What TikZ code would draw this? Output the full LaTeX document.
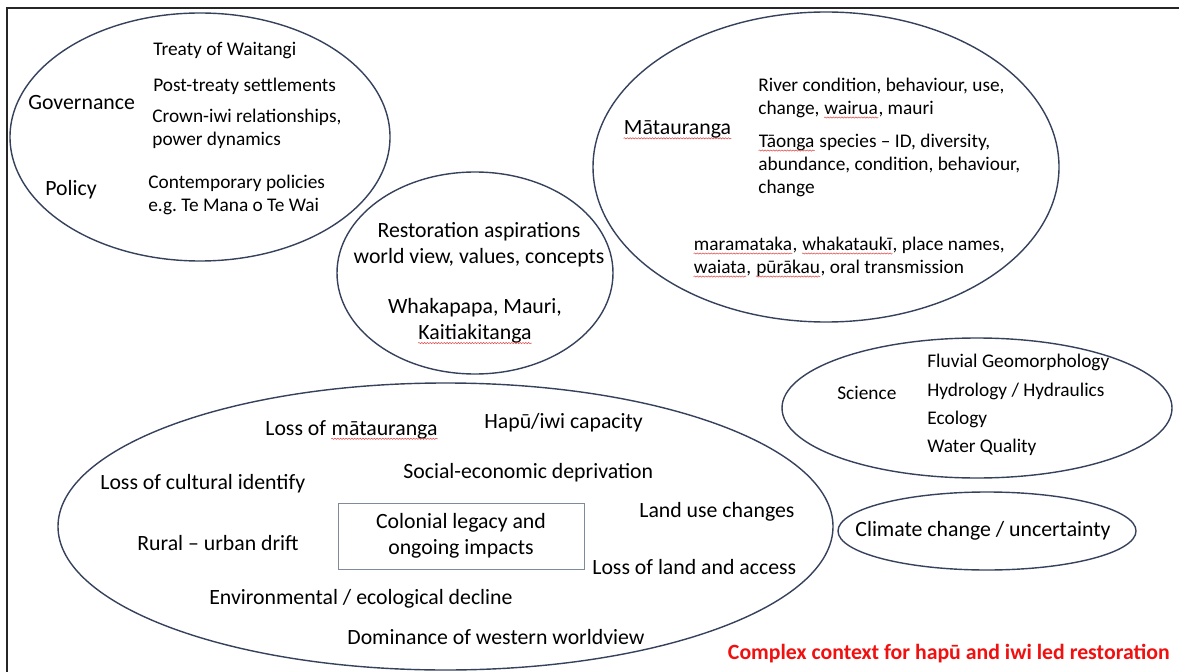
\documentclass[tikz,border=0pt]{standalone}
\usepackage{fontspec}
\setmainfont{Carlito}
\usetikzlibrary{positioning, decorations.pathmorphing}
\definecolor{ringblue}{HTML}{36415C}
\definecolor{boxgray}{HTML}{7F8A9A}
\definecolor{framegray}{HTML}{262626}
\definecolor{spellred}{HTML}{E04848}
\definecolor{titlered}{HTML}{F01010}

% red wavy spell-check mark under Maori words
\newcommand\spell[1]{\tikz[baseline=(w.base), x=1pt, y=1pt]{%
  \node[inner sep=0pt, anchor=base] (w) at (0,0) {#1};
  \draw[spellred, line width=0.3pt, decorate,
    decoration={snake, amplitude=0.35pt, segment length=1.6pt}]
    ([yshift=-2pt]w.base west) -- ([yshift=-2pt]w.base east);}}

\tikzset{
  ring/.style={draw=ringblue, line width=0.8pt},
  head/.style={font=\fontsize{12.4}{15}\selectfont, inner sep=0pt, anchor=west},
  item/.style={font=\fontsize{11}{13.1}\selectfont, inner sep=0pt, anchor=west, align=left},
}

\begin{document}
\begin{tikzpicture}[x=0.02cm, y=-0.02cm]

\useasboundingbox (0,0) rectangle (1179,672);

% Frame (only left and top edges are seen)
\draw[framegray, line width=1.4pt] (7,672) -- (7,8) -- (1179,8);

%%% Governance / Policy %%%
\draw[ring] (200,137) ellipse (190 and 124);
\node[head] (gov) at (28,103) {Governance};
\node[head] (pol) at (45,190) {Policy};
\node[item] (treaty) at (153,51) {Treaty of Waitangi};
\node[item] (settle) at (153,86) {Post-treaty settlements};
\node[item] (crown) at (152,129) {Crown-iwi relationships,\\power dynamics};
\node[item] (manawai) at (148,194.5) {Contemporary policies\\e.g.\ Te Mana o Te Wai};

%%% Restoration aspirations %%%
\draw[ring] (475,273) ellipse (138 and 101);
\node[head, anchor=center, align=center] (aspire) at (479,244.5)
  {Restoration aspirations\\world view, values, concepts};
\node[head, anchor=center, align=center] (values) at (475,321)
  {Whakapapa, Mauri,\\\spell{Kaitiakitanga}};

%%% Matauranga %%%
\draw[ring] (826,167) ellipse (233 and 155);
\node[head] (mat) at (623,130) {\spell{Mātauranga}};
\node[item] (river) at (758,98) {River condition, behaviour, use,\\change, \spell{wairua}, mauri};
\node[item] (taonga) at (758,165) {\spell{Tāonga} species – ID, diversity,\\abundance, condition, behaviour,\\change};
\node[item] (oral) at (693,257) {\spell{maramataka}, \spell{whakataukī}, place names,\\\spell{waiata}, \spell{pūrākau}, oral transmission};

%%% Science %%%
\draw[ring] (977,408) ellipse (195 and 70);
\node[item] (sci) at (837,393) {Science};
\node[item, font=\fontsize{11}{16}\selectfont] (scilist) at (927,405)
  {Fluvial Geomorphology\\Hydrology / Hydraulics\\Ecology\\Water Quality};

%%% Climate %%%
\draw[ring] (987,531) ellipse (149 and 39);
\node[head, anchor=center] (climate) at (983,531) {Climate change / uncertainty};

%%% Colonial legacy %%%
\draw[ring] (445.5,526.5) ellipse (387.5 and 143.5);
\node[head, anchor=center, align=center, draw=boxgray, line width=0.5pt,
  minimum width=4.92cm, minimum height=1.32cm] (colonial) at (461,536)
  {Colonial legacy and\\ongoing impacts};
\node[head] (lossmat) at (265,430) {Loss of \spell{mātauranga}};
\node[head] (capacity) at (484,423) {Hapū/iwi capacity};
\node[head] (social) at (403,473) {Social-economic deprivation};
\node[head] (identity) at (100,484) {Loss of cultural identify};
\node[head] (landuse) at (639,512) {Land use changes};
\node[head] (drift) at (137,543) {Rural – urban drift};
\node[head] (landloss) at (592,567) {Loss of land and access};
\node[head] (decline) at (209,599) {Environmental / ecological decline};
\node[head] (western) at (347,637) {Dominance of western worldview};

% Caption
\node[head, anchor=east, text=titlered, font=\fontsize{12.4}{15}\selectfont\bfseries]
  (caption) at (1170,654) {Complex context for hapū and iwi led restoration};

\end{tikzpicture}
\end{document}
